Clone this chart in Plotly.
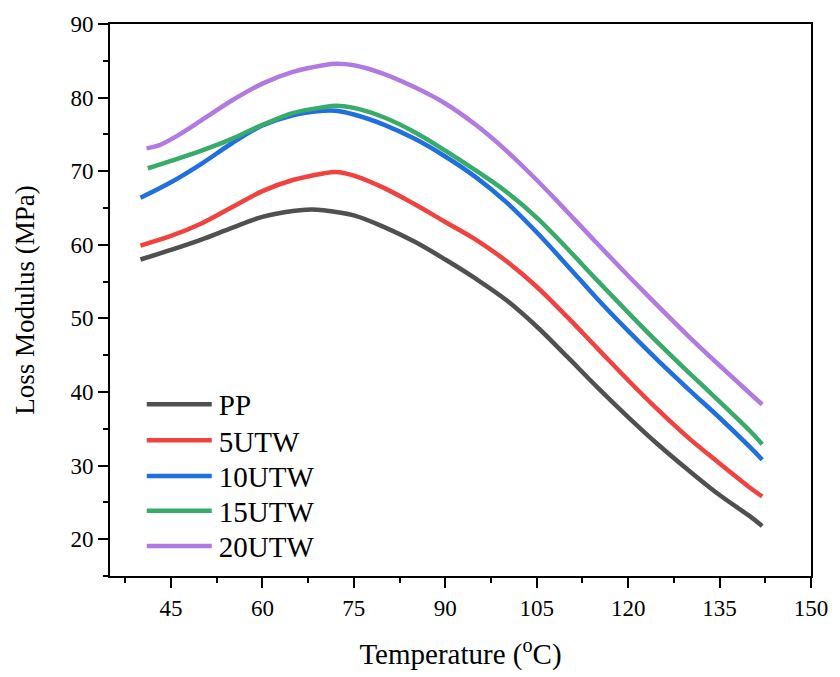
import plotly.graph_objects as go

# Temperature (°C) grids and Loss modulus (MPa) values
t_pp = [40, 45, 50, 55, 60, 65, 68, 70, 75, 80, 85, 90, 95, 100, 105, 110, 115, 120, 125, 130, 135, 140, 142]
pp = [58.0, 59.3, 60.7, 62.3, 63.8, 64.6, 64.8, 64.7, 64.0, 62.4, 60.4, 58.0, 55.4, 52.5, 48.9, 44.8, 40.6, 36.6, 32.8, 29.3, 26.0, 23.1, 21.8]

t_5 = [40, 45, 50, 55, 60, 65, 70, 72, 75, 80, 85, 90, 95, 100, 105, 110, 115, 120, 125, 130, 135, 140, 142]
utw5 = [59.9, 61.2, 62.9, 65.1, 67.3, 68.8, 69.7, 69.9, 69.4, 67.7, 65.5, 63.1, 60.7, 57.8, 54.3, 50.2, 45.9, 41.6, 37.5, 33.7, 30.3, 27.0, 25.8]

t_10 = [40, 45, 50, 55, 60, 65, 70, 72, 75, 80, 85, 90, 95, 100, 105, 110, 115, 120, 125, 130, 135, 140, 142]
utw10 = [66.4, 68.5, 71.0, 73.8, 76.2, 77.6, 78.2, 78.2, 77.7, 76.3, 74.4, 72.0, 69.2, 65.8, 61.7, 57.2, 52.6, 48.3, 44.2, 40.3, 36.5, 32.5, 30.8]

t_15 = [41.2, 45, 50, 55, 60, 65, 70, 72, 75, 80, 85, 90, 95, 100, 105, 110, 115, 120, 125, 130, 135, 140, 142]
utw15 = [70.4, 71.4, 72.8, 74.4, 76.3, 77.9, 78.7, 78.9, 78.6, 77.3, 75.3, 72.8, 70.1, 67.2, 63.7, 59.5, 55.1, 50.8, 46.6, 42.6, 38.7, 34.7, 32.9]

t_20 = [41, 43, 46, 50, 55, 60, 65, 70, 72, 75, 80, 85, 90, 95, 100, 105, 110, 115, 120, 125, 130, 135, 140, 142]
utw20 = [73.1, 73.5, 74.8, 76.9, 79.6, 81.9, 83.5, 84.4, 84.6, 84.4, 83.2, 81.4, 79.2, 76.3, 72.8, 68.8, 64.5, 60.1, 55.8, 51.6, 47.5, 43.6, 39.8, 38.3]

names = ["PP", "5UTW", "10UTW", "15UTW", "20UTW"]
colors = ["#505050", "#F0433F", "#1F6FDE", "#38AA6A", "#B07AE0"]
series = [(t_pp, pp), (t_5, utw5), (t_10, utw10), (t_15, utw15), (t_20, utw20)]

x_ticks = [45, 60, 75, 90, 105, 120, 135, 150]
y_ticks = [20, 30, 40, 50, 60, 70, 80, 90]

FONT = "Liberation Serif, Times New Roman, serif"

legend_ids = ["legend", "legend2", "legend3", "legend4", "legend5"]
legend_rows = [0.311, 0.2455, 0.181, 0.118, 0.054]

fig = go.Figure()
for (x, y), n, c, lg in zip(series, names, colors, legend_ids):
    fig.add_trace(go.Scatter(x=x, y=y, name=n, mode="lines", legend=lg,
                             line=dict(color=c, width=4.5, shape="spline", smoothing=1.0)))

axis_common = dict(
    showline=True, linecolor="black", linewidth=2, mirror=True,
    ticks="outside", ticklen=10, tickwidth=2, tickcolor="black",
    showgrid=False, zeroline=False,
    tickfont=dict(family=FONT, size=23, color="black"),
)

legend_style = dict(x=0.0453, xanchor="left", yanchor="middle",
                    bgcolor="rgba(0,0,0,0)", font=dict(family=FONT, size=29, color="black"),
                    itemwidth=67)

layout_legends = {lg: dict(y=yy, **legend_style) for lg, yy in zip(legend_ids, legend_rows)}

fig.update_layout(
    width=840, height=677,
    margin=dict(l=110, r=24, t=17, b=100),
    paper_bgcolor="white", plot_bgcolor="white",
    font=dict(family=FONT, color="black"),
    xaxis=dict(range=[35, 150], tickvals=x_ticks,
               minor=dict(dtick=7.5, tick0=0, ticks="outside", ticklen=5, tickwidth=2, tickcolor="black"),
               title=dict(text="Temperature (<sup>o</sup>C)", font=dict(family=FONT, size=29), standoff=24),
               **axis_common),
    yaxis=dict(range=[15, 90], tickvals=y_ticks,
               minor=dict(dtick=5, tick0=0, ticks="outside", ticklen=5, tickwidth=2, tickcolor="black"),
               title=dict(text="Loss Modulus (MPa)", font=dict(family=FONT, size=27), standoff=28),
               **axis_common),
    showlegend=True,
    **layout_legends,
)

post = "document.querySelectorAll('.legendlines path').forEach(function(p){p.setAttribute('d','M5,0h65');});"
fig.write_html("out.html", post_script=post)
